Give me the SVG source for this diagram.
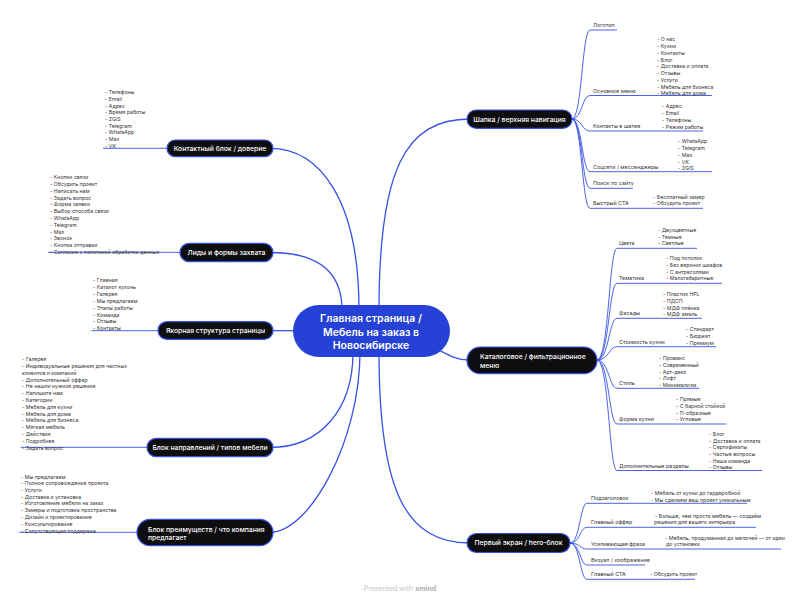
<svg xmlns="http://www.w3.org/2000/svg" width="800" height="601" viewBox="0 0 800 601">
<style>
.c{fill:none;stroke:#3651e5;stroke-width:1.3}
.s{fill:none;stroke:#3651e5;stroke-width:0.9}
.n{fill:#0e0e10;stroke:#3651e5;stroke-width:1.2}
.nt{fill:#fff;font-family:Inter,"Noto Sans",sans-serif;font-size:6.8px;font-weight:500}
.ct{fill:#fff;font-family:Inter,"Noto Sans",sans-serif;font-size:10.5px;font-weight:600}
.l{fill:#333;font-family:Inter,"Noto Sans",sans-serif;font-size:5.4px}
.li{fill:#333;font-family:Inter,"Noto Sans",sans-serif;font-size:5.2px}
</style>
<rect width="800" height="601" fill="#fff"/>
<g id="connectors">
<path class="c" d="M270,148.3 C320,148.3 359,200 359,310"/>
<path class="c" d="M270,252.5 C315,252.5 342,270 342,310"/>
<path class="c" d="M270,330.7 L300,330.7"/>
<path class="c" d="M270,447.5 C320,447.5 353,410 353,352"/>
<path class="c" d="M270,532.3 C310,532.3 360,440 360,352"/>
<path class="c" d="M379,310 C379,170 405,119 470,119"/>
<path class="c" d="M430,345 C448,355 455,360 470,360"/>
<path class="c" d="M379,352 C379,490 405,543 470,543"/>
<path class="s" d="M103,148.3 H170"/>
<path class="s" d="M48,252.3 H183"/>
<path class="s" d="M91.7,330.7 H161"/>
<path class="s" d="M20.7,447.3 H150"/>
<path class="s" d="M19.3,532.3 H140"/>
<path class="s" d="M572,119 C582,119 582,30 590,30 H617"/>
<path class="s" d="M572,119 C582,119 582,95.5 590,95.5 H712"/>
<path class="s" d="M572,119 C582,119 582,131 590,131 H703"/>
<path class="s" d="M572,119 C582,119 582,171.7 590,171.7 H712"/>
<path class="s" d="M572,119 C582,119 582,188.3 590,188.3 H633"/>
<path class="s" d="M572,119 C582,119 582,208.3 590,208.3 H703"/>
<path class="s" d="M597,360 C609,360 609,248.3 617,248.3 H697"/>
<path class="s" d="M597,360 C609,360 609,283.3 617,283.3 H722"/>
<path class="s" d="M597,360 C609,360 609,318.3 617,318.3 H702"/>
<path class="s" d="M597,360 C609,360 609,346.7 617,346.7 H716"/>
<path class="s" d="M597,360 C609,360 609,388.3 617,388.3 H699"/>
<path class="s" d="M597,360 C609,360 609,424 617,424 H726"/>
<path class="s" d="M597,360 C609,360 609,470.5 617,470.5 H762"/>
<path class="s" d="M570,543 C580,543 580,503.3 587,503.3 H747"/>
<path class="s" d="M570,543 C580,543 580,527.3 587,527.3 H756"/>
<path class="s" d="M570,543 C580,543 580,549 587,549 H781"/>
<path class="s" d="M570,543 C580,543 580,565 587,565 H645"/>
<path class="s" d="M570,543 C580,543 580,579.3 587,579.3 H695"/>
</g>
<g id="center">
<rect x="293" y="305" width="157" height="52" rx="26" fill="#2541d6"/>
<text class="ct" text-anchor="middle"><tspan x="371" y="322">Главная страница /</tspan><tspan x="371" y="335.5">Мебель на заказ в</tspan><tspan x="371" y="349">Новосибирске</tspan></text>
</g>
<g id="contacts">
<rect class="n" x="167" y="140" width="106" height="16.7" rx="8.3"/>
<text class="nt" x="220" y="150.8" text-anchor="middle">Контактный блок / доверие</text>
<text class="li"><tspan x="105" y="94.3">- Телефоны</tspan><tspan x="105" y="101">- Email</tspan><tspan x="105" y="107.7">- Адрес</tspan><tspan x="105" y="114.3">- Время работы</tspan><tspan x="105" y="121">- 2GIS</tspan><tspan x="105" y="127.7">- Telegram</tspan><tspan x="105" y="134.3">- WhatsApp</tspan><tspan x="105" y="141">- Max</tspan><tspan x="105" y="147.7">- VK</tspan></text>
</g>
<g id="leads">
<rect class="n" x="180" y="243.3" width="93" height="18.4" rx="9.2"/>
<text class="nt" x="226.5" y="255" text-anchor="middle">Лиды и формы захвата</text>
<text class="li"><tspan x="50" y="179.3">- Кнопки связи</tspan><tspan x="50" y="186.1">- Обсудить проект</tspan><tspan x="50" y="192.8">- Написать нам</tspan><tspan x="50" y="199.6">- Задать вопрос</tspan><tspan x="50" y="206.4">- Форма заявки</tspan><tspan x="50" y="213.2">- Выбор способа связи</tspan><tspan x="50" y="219.9">- WhatsApp</tspan><tspan x="50" y="226.7">- Telegram</tspan><tspan x="50" y="233.5">- Max</tspan><tspan x="50" y="240.2">- Звонок</tspan><tspan x="50" y="247">- Кнопка отправки</tspan><tspan x="50" y="253.8">- Согласие с политикой обработки данных</tspan></text>
</g>
<g id="anchor">
<rect class="n" x="158" y="321.7" width="115" height="17.6" rx="8.8"/>
<text class="nt" x="215.5" y="333" text-anchor="middle">Якорная структура страницы</text>
<text class="li"><tspan x="93" y="282">- Главная</tspan><tspan x="93" y="288.9">- Каталог кухонь</tspan><tspan x="93" y="295.8">- Галерея</tspan><tspan x="93" y="302.7">- Мы предлагаем</tspan><tspan x="93" y="309.6">- Этапы работы</tspan><tspan x="93" y="316.5">- Команда</tspan><tspan x="93" y="323.4">- Отзывы</tspan><tspan x="93" y="330.3">- Контакты</tspan></text>
</g>
<g id="directions">
<rect class="n" x="147" y="438.3" width="126" height="18.4" rx="9.2"/>
<text class="nt" x="210" y="450" text-anchor="middle">Блок направлений / типов мебели</text>
<text class="li"><tspan x="22" y="361">- Галерея</tspan><tspan x="22" y="367.8">- Индивидуальные решения для частных</tspan><tspan x="22" y="374.6">клиентов и компаний</tspan><tspan x="22" y="381.5">- Дополнительный оффер</tspan><tspan x="22" y="388.3">- Не нашли нужное решение</tspan><tspan x="22" y="395.1">- Напишите нам</tspan><tspan x="22" y="401.9">- Категории</tspan><tspan x="22" y="408.7">- Мебель для кухни</tspan><tspan x="22" y="415.6">- Мебель для дома</tspan><tspan x="22" y="422.4">- Мебель для бизнеса</tspan><tspan x="22" y="429.2">- Мягкая мебель</tspan><tspan x="22" y="436">- Действия</tspan><tspan x="22" y="442.8">- Подробнее</tspan><tspan x="22" y="449.7">- Задать вопрос</tspan></text>
</g>
<g id="advantages">
<rect class="n" x="137" y="519.3" width="136" height="26.4" rx="13.2"/>
<text class="nt"><tspan x="148" y="531.8">Блок преимуществ / что компания</tspan><tspan x="148" y="539.8">предлагает</tspan></text>
<text class="li"><tspan x="21" y="478.6">- Мы предлагаем</tspan><tspan x="21" y="485.3">- Полное сопровождение проекта</tspan><tspan x="21" y="492">- Услуги</tspan><tspan x="21" y="498.7">- Доставка и установка</tspan><tspan x="21" y="505.3">- Изготовление мебели на заказ</tspan><tspan x="21" y="512">- Замеры и подготовка пространства</tspan><tspan x="21" y="519">- Дизайн и проектирование</tspan><tspan x="21" y="525.7">- Консультирование</tspan><tspan x="21" y="532.7">- Сопутствующая поддержка</tspan></text>
</g>
<g id="header">
<rect class="n" x="467" y="110" width="105" height="18.3" rx="9.1"/>
<text class="nt" x="519.5" y="121.5" text-anchor="middle">Шапка / верхняя навигация</text>
<text class="l" x="593" y="27">Логотип</text>
<text class="l" x="593" y="92.5">Основное меню</text>
<text class="li"><tspan x="657" y="41.3">- О нас</tspan><tspan x="657" y="48.05">- Кухни</tspan><tspan x="657" y="54.8">- Контакты</tspan><tspan x="657" y="61.55">- Блог</tspan><tspan x="657" y="68.3">- Доставка и оплата</tspan><tspan x="657" y="75.05">- Отзывы</tspan><tspan x="657" y="81.8">- Услуги</tspan><tspan x="657" y="88.55">- Мебель для бизнеса</tspan><tspan x="657" y="95.3">- Мебель для дома</tspan></text>
<text class="l" x="593" y="128">Контакты в шапке</text>
<text class="li"><tspan x="662" y="108">- Адрес</tspan><tspan x="662" y="114.9">- Email</tspan><tspan x="662" y="121.8">- Телефоны</tspan><tspan x="662" y="128.7">- Режим работы</tspan></text>
<text class="l" x="593" y="168.7">Соцсети / мессенджеры</text>
<text class="li"><tspan x="678" y="143.3">- WhatsApp</tspan><tspan x="678" y="150.2">- Telegram</tspan><tspan x="678" y="157">- Max</tspan><tspan x="678" y="163.7">- VK</tspan><tspan x="678" y="170.3">- 2GIS</tspan></text>
<text class="l" x="593" y="185.3">Поиск по сайту</text>
<text class="l" x="593" y="205.3">Быстрый CTA</text>
<text class="li"><tspan x="653" y="198.7">- Бесплатный замер</tspan><tspan x="653" y="205.3">- Обсудить проект</tspan></text>
</g>
<g id="catalog">
<rect class="n" x="467" y="347" width="130" height="26.7" rx="13.3"/>
<text class="nt"><tspan x="480" y="358.5">Каталоговое / фильтрационное</tspan><tspan x="480" y="367.5">меню</tspan></text>
<text class="l" x="619" y="245.3">Цвета</text>
<text class="li"><tspan x="658" y="232">- Двухцветные</tspan><tspan x="658" y="238.7">- Темные</tspan><tspan x="658" y="245.3">- Светлые</tspan></text>
<text class="l" x="619" y="280.3">Тематика</text>
<text class="li"><tspan x="666" y="260.3">- Под потолок</tspan><tspan x="666" y="267">- Без верхних шкафов</tspan><tspan x="666" y="273.7">- С антресолями</tspan><tspan x="666" y="280.3">- Малогабаритные</tspan></text>
<text class="l" x="619" y="315.3">Фасады</text>
<text class="li"><tspan x="663" y="296.3">- Пластик HPL</tspan><tspan x="663" y="303">- ПДСП</tspan><tspan x="663" y="309.7">- МДФ плёнка</tspan><tspan x="663" y="316.3">- МДФ эмаль</tspan></text>
<text class="l" x="619" y="343.7">Стоимость кухни</text>
<text class="li"><tspan x="686" y="331.3">- Стандарт</tspan><tspan x="686" y="338">- Бюджет</tspan><tspan x="686" y="344.7">- Премиум</tspan></text>
<text class="l" x="619" y="385.3">Стиль</text>
<text class="li"><tspan x="659" y="360.3">- Прованс</tspan><tspan x="659" y="367">- Современный</tspan><tspan x="659" y="373.7">- Арт-деко</tspan><tspan x="659" y="380.3">- Лофт</tspan><tspan x="659" y="387">- Минимализм</tspan></text>
<text class="l" x="619" y="421">Форма кухни</text>
<text class="li"><tspan x="676" y="401.3">- Прямые</tspan><tspan x="676" y="408">- С барной стойкой</tspan><tspan x="676" y="414.7">- П-образные</tspan><tspan x="676" y="421.3">- Угловые</tspan></text>
<text class="l" x="619" y="467.5">Дополнительные разделы</text>
<text class="li"><tspan x="709" y="436">- Блог</tspan><tspan x="709" y="442.7">- Доставка и оплата</tspan><tspan x="709" y="449.3">- Сертификаты</tspan><tspan x="709" y="456">- Частые вопросы</tspan><tspan x="709" y="462.7">- Наша команда</tspan><tspan x="709" y="469.3">- Отзывы</tspan></text>
</g>
<g id="hero">
<rect class="n" x="467" y="533.5" width="103" height="19" rx="9.5"/>
<text class="nt" x="518.5" y="545.3" text-anchor="middle">Первый экран / hero-блок</text>
<text class="l" x="591" y="500.3">Подзаголовок</text>
<text class="li"><tspan x="651" y="495.3">- Мебель от кухни до гардеробной</tspan><tspan x="651" y="502">- Мы сделаем ваш проект уникальным</tspan></text>
<text class="l" x="591" y="524.3">Главный оффер</text>
<text class="li"><tspan x="655" y="517.7">- Больше, чем просто мебель — создаём</tspan><tspan x="654" y="524.3">решения для вашего интерьера</tspan></text>
<text class="l" x="591" y="546">Усиливающая фраза</text>
<text class="li"><tspan x="665" y="540">- Мебель, продуманная до мелочей — от идеи</tspan><tspan x="666" y="546.3">до установки</tspan></text>
<text class="l" x="591" y="562">Визуал / изображение</text>
<text class="l" x="591" y="576.3">Главный CTA</text>
<text class="li" x="650" y="576.3">- Обсудить проект</text>
</g>
<text x="400" y="591" text-anchor="middle" font-family="Inter, sans-serif" font-size="7" fill="#c4c4c4">Presented with <tspan font-weight="700" fill="#b0b0b0">xmind</tspan></text>
</svg>
